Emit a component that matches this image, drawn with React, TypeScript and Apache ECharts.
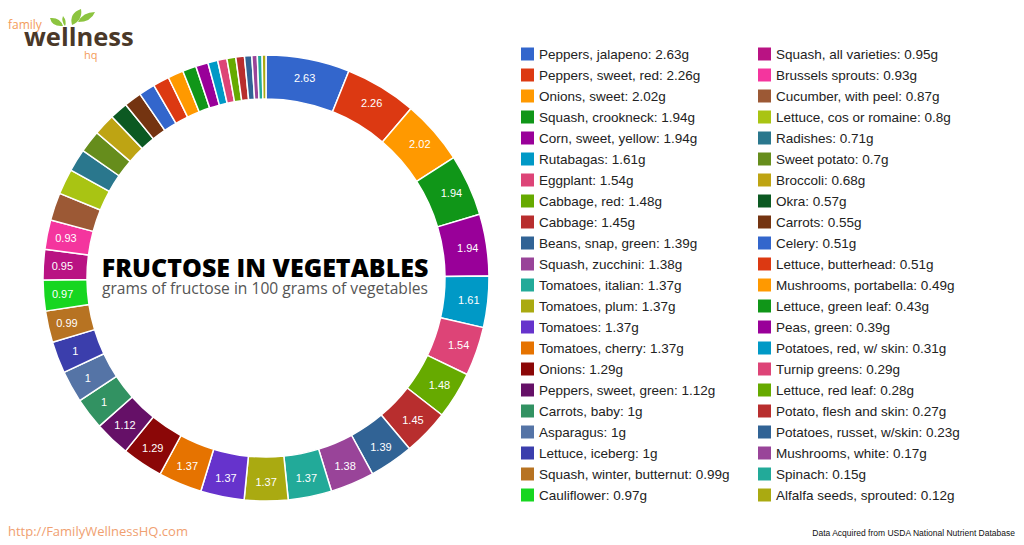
import React, { useEffect, useRef } from "react";
import * as echarts from "echarts";

const names: string[] = [
  "Peppers, jalapeno", "Peppers, sweet, red", "Onions, sweet", "Squash, crookneck", "Corn, sweet, yellow",
  "Rutabagas", "Eggplant", "Cabbage, red", "Cabbage", "Beans, snap, green", "Squash, zucchini",
  "Tomatoes, italian", "Tomatoes, plum", "Tomatoes", "Tomatoes, cherry", "Onions", "Peppers, sweet, green",
  "Carrots, baby", "Asparagus", "Lettuce, iceberg", "Squash, winter, butternut", "Cauliflower",
  "Squash, all varieties", "Brussels sprouts", "Cucumber, with peel", "Lettuce, cos or romaine", "Radishes",
  "Sweet potato", "Broccoli", "Okra", "Carrots", "Celery", "Lettuce, butterhead", "Mushrooms, portabella",
  "Lettuce, green leaf", "Peas, green", "Potatoes, red, w/ skin", "Turnip greens", "Lettuce, red leaf",
  "Potato, flesh and skin", "Potatoes, russet, w/skin", "Mushrooms, white", "Spinach", "Alfalfa seeds, sprouted",
];
const values: number[] = [
  2.63, 2.26, 2.02, 1.94, 1.94, 1.61, 1.54, 1.48, 1.45, 1.39, 1.38,
  1.37, 1.37, 1.37, 1.37, 1.29, 1.12, 1, 1, 1, 0.99, 0.97,
  0.95, 0.93, 0.87, 0.8, 0.71, 0.7, 0.68, 0.57, 0.55, 0.51, 0.51, 0.49,
  0.43, 0.39, 0.31, 0.29, 0.28, 0.27, 0.23, 0.17, 0.15, 0.12,
];
const palette: string[] = [
  "#3366cc", "#dc3912", "#ff9900", "#109618", "#990099", "#0099c6", "#dd4477", "#66aa00",
  "#b82e2e", "#316395", "#994499", "#22aa99", "#aaaa11", "#6633cc", "#e67300", "#8b0707",
  "#651067", "#329262", "#5574a6", "#3b3eac", "#b77322", "#16d620", "#b91383", "#f4359e",
  "#9c5935", "#a9c413", "#2a778d", "#668d1c", "#bea413", "#0c5922", "#743411",
];
const labelMin = 0.9;

const leavesPath =
  "M63 26 Q52 27 50 18 Q60 17 63 26 Z " +
  "M65 26 Q61 21 63 16 Q67 21 65 26 Z " +
  "M72 25 Q69 13 81 9 Q83 20 72 25 Z " +
  "M78 22 Q83 12 95 12 Q91 22 78 22 Z";

let registered = false;

export default function App() {
  const ref = useRef<HTMLDivElement>(null);
  useEffect(() => {
    if (!ref.current) return;
    if (!registered) {
      echarts.graphic.registerShape("leaves", echarts.graphic.extendPath(leavesPath, {}) as any);
      registered = true;
    }
    const chart = echarts.init(ref.current, undefined, { renderer: "svg" });
    const valueMap: Record<string, number> = {};
    names.forEach((n, i) => (valueMap[n] = values[i]));
    const data = names.map((n, i) => ({
      name: n,
      value: values[i],
      label: { show: values[i] >= labelMin },
    }));
    const half = Math.ceil(names.length / 2);
    const legendBase = {
      orient: "vertical",
      top: 47,
      padding: 0,
      itemWidth: 13,
      itemHeight: 13,
      itemGap: 7,
      icon: "rect",
      selectedMode: false,
      itemStyle: { borderWidth: 0 },
      textStyle: { fontFamily: "Liberation Sans, Arial", fontSize: 13.5, color: "#222", lineHeight: 13 },
      formatter: (n: string) => `${n}: ${valueMap[n]}g`,
    };
    chart.setOption({
      animation: false,
      backgroundColor: "#fff",
      color: palette,
      legend: [
        { ...legendBase, left: 521, data: names.slice(0, half) },
        { ...legendBase, left: 758, data: names.slice(half) },
      ],
      series: [
        {
          type: "pie",
          center: [266, 278],
          radius: [179, 223],
          startAngle: 90,
          clockwise: true,
          avoidLabelOverlap: false,
          silent: true,
          itemStyle: { borderColor: "#fff", borderWidth: 1.5 },
          label: {
            position: "inside",
            color: "#fff",
            fontSize: 11,
            fontFamily: "Liberation Sans, Arial",
            formatter: (p: any) => `${p.value}`,
          },
          labelLine: { show: false },
          data,
        },
      ],
      graphic: [
        {
          type: "text",
          x: 265,
          y: 267,
          style: {
            text: "FRUCTOSE IN VEGETABLES",
            align: "center",
            verticalAlign: "middle",
            fontFamily: "Open Sans",
            fontWeight: 800,
            fontSize: 25,
            fill: "#000",
          },
        },
        {
          type: "text",
          x: 265,
          y: 288,
          style: {
            text: "grams of fructose in 100 grams of vegetables",
            align: "center",
            verticalAlign: "middle",
            fontFamily: "Open Sans",
            fontSize: 15.6,
            fill: "#555",
          },
        },
        {
          type: "leaves",
          x: 0,
          y: 0,
          style: { fill: "#8cc43f" },
        },
        {
          type: "text",
          x: 8,
          y: 24,
          style: {
            text: "family",
            verticalAlign: "middle",
            fontFamily: "Open Sans",
            fontSize: 12,
            fill: "#f39c5a",
          },
        },
        {
          type: "text",
          x: 24,
          y: 36,
          style: {
            text: "wellness",
            verticalAlign: "middle",
            fontFamily: "Open Sans",
            fontWeight: "bold",
            fontSize: 25.5,
            fill: "#4a3828",
          },
        },
        {
          type: "text",
          x: 84,
          y: 54,
          style: {
            text: "hq",
            verticalAlign: "middle",
            fontFamily: "Open Sans",
            fontSize: 11,
            fill: "#f39c5a",
          },
        },
        {
          type: "text",
          x: 8,
          y: 531,
          style: {
            text: "http://FamilyWellnessHQ.com",
            verticalAlign: "middle",
            fontFamily: "Open Sans",
            fontSize: 13,
            fill: "#f0a070",
          },
        },
        {
          type: "text",
          x: 1015,
          y: 533,
          style: {
            text: "Data Acquired from USDA National Nutrient Database",
            align: "right",
            verticalAlign: "middle",
            fontFamily: "Liberation Sans, Arial",
            fontSize: 8.5,
            fill: "#111",
          },
        },
      ],
    });
    return () => chart.dispose();
  }, []);
  return (
    <div
      ref={ref}
      style={{ position: "fixed", left: 0, top: 0, width: 1024, height: 545, background: "#fff" }}
    />
  );
}
